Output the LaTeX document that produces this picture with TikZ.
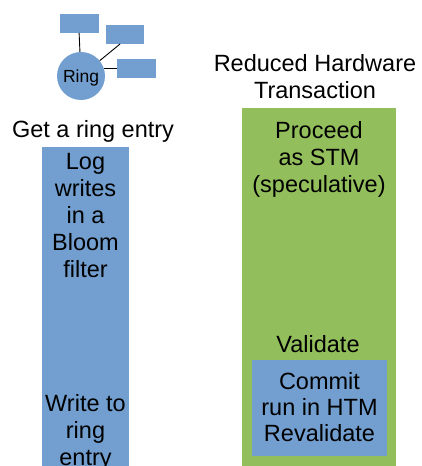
\documentclass[tikz,border=0pt]{standalone}
\usepackage{fontspec}
\setmainfont{Liberation Sans}
\usetikzlibrary{calc}
\definecolor{boxblue}{RGB}{114,159,207}
\definecolor{boxgreen}{RGB}{147,190,92}
\begin{document}
\begin{tikzpicture}[x=1pt,y=-1pt,
  bigtext/.style={font=\fontsize{23.5}{27}\selectfont, align=center, inner sep=0, anchor=base},
  blk/.style={anchor=north west, inner sep=0, outer sep=0, draw=none},
  smallbox/.style={blk, fill=boxblue, minimum width=39, minimum height=19},
  link/.style={draw=black, line width=0.9pt}]
\useasboundingbox (0,0) rectangle (421,466);
\clip (0,0) rectangle (421,466);
% ring cluster
\node[smallbox] (r1) at (60,14) {};
\node[smallbox, minimum width=38] (r2) at (106,25) {};
\node[smallbox] (r3) at (117,59) {};
\node[circle, fill=boxblue, minimum size=48, inner sep=0] (ring) at (81,76) {};
\node[font=\fontsize{17.5}{20}\selectfont, inner sep=0, anchor=base] (ringlbl) at (81,82) {Ring};
\draw[link] ($(r1.south west)!0.49!(r1.south east)$) -- (ring);
\draw[link] ($(r2.south west)!0.37!(r2.south east)$) -- (ring);
\draw[link] (ring.17) -- (ring.17 -| r3.west);
% columns
\node[blk, fill=boxblue, minimum width=87, minimum height=330] (left) at (42,147) {};
\node[blk, fill=boxgreen, minimum width=154, minimum height=370] (right) at (242,108) {};
\node[blk, fill=boxblue, minimum width=135, minimum height=96] (inner) at (252,360) {};
% texts (anchor = baseline of last line)
\node[bigtext] (getring) at (93,137) {Get a ring entry};
\node[bigtext] (reduced) at (315,98.5) {Reduced Hardware\\Transaction};
\node[bigtext] (log) at (85.5,277.5) {Log\\writes\\in a\\Bloom\\filter};
\node[bigtext] (write) at (85.5,465.5) {Write to\\ring\\entry};
\node[bigtext] (proceed) at (319,192) {Proceed\\as STM\\(speculative)};
\node[bigtext] (validate) at (318,352) {Validate};
\node[bigtext, font=\fontsize{23.5}{25.8}\selectfont] (commit) at (319.5,441.5) {Commit\\run in HTM\\Revalidate};
\end{tikzpicture}
\end{document}
